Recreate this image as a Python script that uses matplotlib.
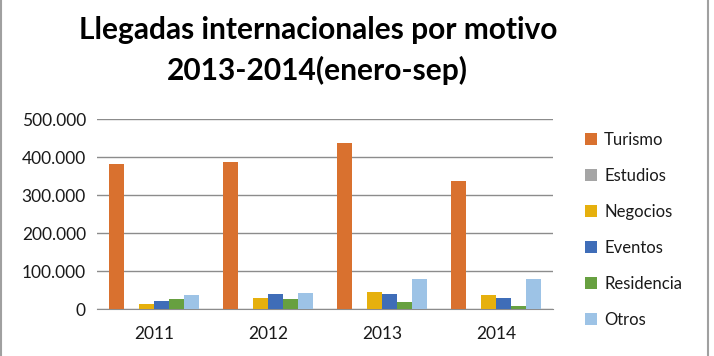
import numpy as np
import matplotlib.pyplot as plt
from matplotlib.ticker import FuncFormatter

years = ["2011", "2012", "2013", "2014"]
series = ["Turismo", "Estudios", "Negocios", "Eventos", "Residencia", "Otros"]
turismo = [382000, 388000, 438000, 338000]
estudios = [1000, 1000, 1000, 1000]
negocios = [14000, 29000, 45000, 37000]
eventos = [21000, 39500, 39500, 29000]
residencia = [25500, 25500, 18000, 9000]
otros = [37700, 42000, 79000, 79000]
colors = ["#D9712F", "#A5A5A5", "#E6B00D", "#3F6DB8", "#67A040", "#9DC3E6"]

values = [turismo, estudios, negocios, eventos, residencia, otros]

plt.rcParams["font.family"] = ["Lato", "DejaVu Sans"]

fig = plt.figure(figsize=(7.14, 3.56), dpi=100)
ax = fig.add_axes([97 / 714, 1 - 309 / 356, (553 - 97) / 714, 190 / 356])

x = np.arange(len(years))
w = 0.132
for i, (name, vals) in enumerate(zip(series, values)):
    ax.bar(x + (i - 2.5) * w, vals, w, color=colors[i], label=name, zorder=3)

ax.set_xlim(-0.5, 3.5)
ax.set_ylim(0, 500000)
ax.set_yticks(range(0, 500001, 100000))
ax.yaxis.set_major_formatter(FuncFormatter(lambda v, p: f"{int(v):,}".replace(",", ".")))
ax.set_xticks(x)
ax.set_xticklabels(years)
ax.grid(axis="y", color="#8c8c8c", linewidth=1, zorder=0)
for s in ["top", "right", "left"]:
    ax.spines[s].set_visible(False)
ax.spines["bottom"].set_color("#8c8c8c")
ax.tick_params(axis="both", length=0, labelsize=12.5, colors="#1a1a1a")
ax.tick_params(axis="x", pad=12)
ax.tick_params(axis="y", pad=8)

fig.text(0.445, 0.955, "Llegadas internacionales por motivo\n2013-2014(enero-sep)",
         ha="center", va="top", fontsize=21.5, fontweight="bold", linespacing=1.5)

leg = ax.legend(loc="upper left", bbox_to_anchor=(570 / 714, 1 - 117 / 356),
                bbox_transform=fig.transFigure, frameon=False, fontsize=12,
                handlelength=0.7, handleheight=0.7, handletextpad=0.45,
                labelspacing=1.2)
for t in leg.get_texts():
    t.set_color("#1a1a1a")

for xx in (0.002, 0.992):
    fig.add_artist(plt.Line2D([xx, xx], [0, 1], transform=fig.transFigure,
                              color="#a0a0a0", linewidth=1.5))

fig.savefig("out.png", dpi=100)
